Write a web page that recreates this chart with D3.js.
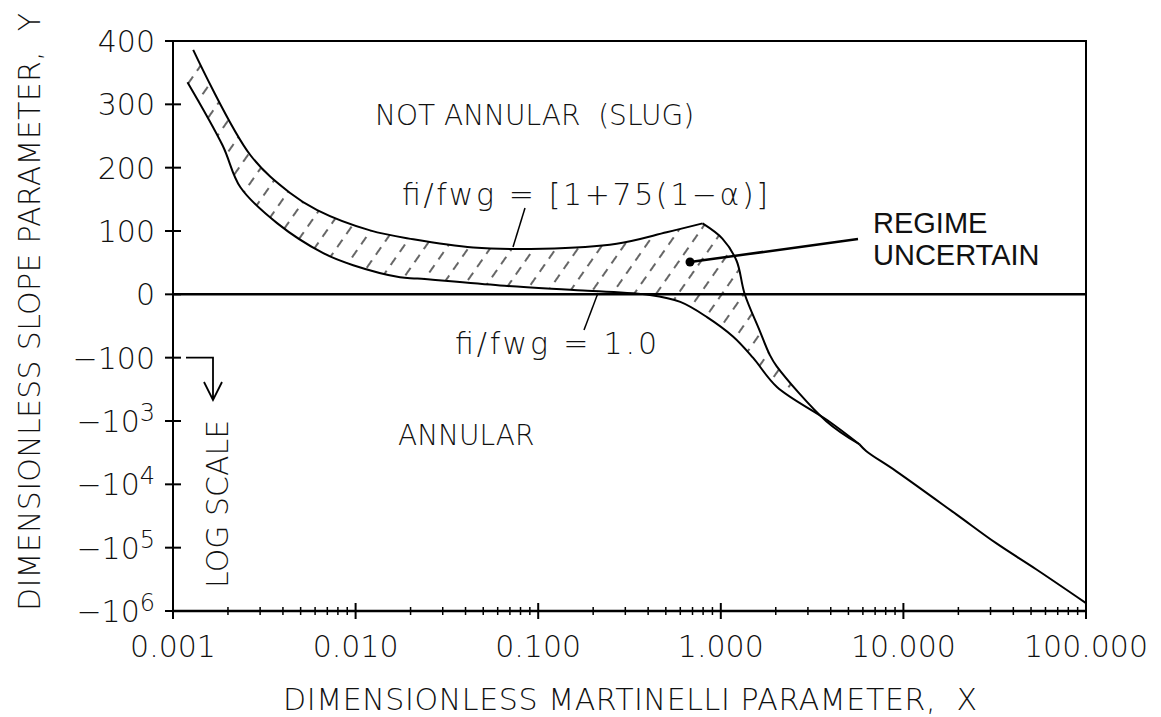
<!DOCTYPE html>
<html>
<head>
<meta charset="utf-8">
<script src="https://cdn.jsdelivr.net/npm/d3@7"></script>
<style>
  body { margin: 0; background: #fff; }
  svg text { font-family: "DejaVu Sans", sans-serif; font-weight: 200; fill: #111; white-space: pre; }
</style>
</head>
<body>
<div id="chart"></div>
<script>
var W = 1161, H = 717;
var pLeft = 173, pRight = 1086, pTop = 41, pBottom = 611;

/* x 轴刻度 */
var xDecades = [0.001, 0.01, 0.1, 1, 10, 100];
var xTickLabels = ["0.001", "0.010", "0.100", "1.000", "10.000", "100.000"];

/* y 轴刻度：上半线性，下半对数 */
var yTickValues = [400, 300, 200, 100, 0, -100, -1e3, -1e4, -1e5, -1e6];

/* fi/fwg = [1+75(1-a)] 曲线（第 11 点为尖峰） */
var upperCurve = [
  [0.00129, 386], [0.00265, 220], [0.00438, 160], [0.00616, 133], [0.0120, 101],
  [0.0207, 87], [0.044, 74], [0.106, 72], [0.269, 80], [0.505, 98], [0.795, 112],
  [1.02, 88], [1.22, 53], [1.35, 1], [1.63, -57], [1.85, -95], [2.02, -136],
  [3.78, -1007], [5.74, -2330]
];
var peakIndex = 10;

/* fi/fwg = 1.0 曲线 */
var lowerCurve = [
  [0.0012, 335], [0.00187, 235], [0.00234, 169], [0.00373, 112], [0.00665, 65],
  [0.0097, 46], [0.0175, 27], [0.0218, 25], [0.0618, 14], [0.176, 6], [0.409, -1],
  [0.60, -12], [0.84, -36], [1.17, -67], [1.50, -100], [2.03, -290], [3.82, -966],
  [5.74, -2330]
];

/* 合并后的尾部 */
var tailCurve = [
  [5.74, -2330], [6.27, -3000], [9.15, -6230], [19.5, -29800], [32.2, -85000],
  [53.3, -219000], [100, -750000]
];

var x = d3.scaleLog().domain([0.001, 100]).range([pLeft, pRight]);
var step = (pBottom - pTop) / 9;
var yLin = d3.scaleLinear().domain([400, -100]).range([pTop, pTop + 5 * step]);
var yLog = d3.scaleLog().domain([100, 1e6]).range([pTop + 5 * step, pBottom]);
function y(v) { return v >= -100 ? yLin(v) : yLog(-v); }

var svg = d3.select("#chart").append("svg")
  .attr("width", W).attr("height", H);

/* 斜线填充 */
var pat = svg.append("defs").append("pattern")
  .attr("id", "hatch")
  .attr("patternUnits", "userSpaceOnUse")
  .attr("width", 18).attr("height", 16)
  .attr("patternTransform", "rotate(35)");
pat.append("line")
  .attr("x1", 4).attr("y1", 0).attr("x2", 4).attr("y2", 16)
  .attr("stroke", "#000").attr("stroke-width", 1.2)
  .attr("stroke-dasharray", "9,7");

var smooth = d3.line()
  .x(d => x(d[0])).y(d => y(d[1]))
  .curve(d3.curveCatmullRom.alpha(0.5));
var cont = p => p.replace(/^M/, "L");

var up1 = upperCurve.slice(0, peakIndex + 1);
var up2 = upperCurve.slice(peakIndex);

svg.append("path")
  .attr("d", smooth(up1) + cont(smooth(up2)) + cont(smooth(lowerCurve.slice().reverse())) + "Z")
  .attr("fill", "url(#hatch)")
  .attr("stroke", "none");

/* 零线 */
svg.append("line")
  .attr("x1", pLeft).attr("x2", pRight)
  .attr("y1", y(0)).attr("y2", y(0))
  .attr("stroke", "#000").attr("stroke-width", 2.5);

/* 曲线 */
[up1, up2, lowerCurve, tailCurve].forEach(function (c) {
  svg.append("path")
    .attr("d", smooth(c))
    .attr("fill", "none")
    .attr("stroke", "#000")
    .attr("stroke-width", 2)
    .attr("stroke-linejoin", "round");
});

/* 边框 */
svg.append("rect")
  .attr("x", pLeft).attr("y", pTop)
  .attr("width", pRight - pLeft).attr("height", pBottom - pTop)
  .attr("fill", "none").attr("stroke", "#000").attr("stroke-width", 2);
svg.append("line")
  .attr("x1", pLeft).attr("x2", pRight).attr("y1", pBottom).attr("y2", pBottom)
  .attr("stroke", "#000").attr("stroke-width", 2.5);

/* x 轴刻度 */
var xMinor = [];
xDecades.slice(0, -1).forEach(function (d) {
  for (var k = 2; k <= 9; k++) xMinor.push(d * k);
});
svg.append("g").selectAll("line.minor")
  .data(xMinor).enter().append("line")
  .attr("x1", d => x(d)).attr("x2", d => x(d))
  .attr("y1", pBottom - 4).attr("y2", pBottom + 4)
  .attr("stroke", "#000").attr("stroke-width", 1.5);
svg.append("g").selectAll("line.major")
  .data(xDecades).enter().append("line")
  .attr("x1", d => x(d)).attr("x2", d => x(d))
  .attr("y1", pBottom - 8).attr("y2", pBottom + 8)
  .attr("stroke", "#000").attr("stroke-width", 2);
svg.append("g").selectAll("text")
  .data(xDecades).enter().append("text")
  .attr("x", d => x(d)).attr("y", 657)
  .attr("text-anchor", "middle")
  .style("font-size", "30px")
  .text((d, i) => xTickLabels[i]);

/* y 轴刻度 */
svg.append("g").selectAll("line")
  .data(yTickValues).enter().append("line")
  .attr("x1", pLeft - 8).attr("x2", pLeft + 8)
  .attr("y1", d => y(d)).attr("y2", d => y(d))
  .attr("stroke", "#000").attr("stroke-width", 2);
var yl = svg.append("g").selectAll("text")
  .data(yTickValues).enter().append("text")
  .attr("x", 155).attr("y", d => y(d) + 11)
  .attr("text-anchor", "end")
  .style("font-size", "30px");
yl.each(function (d) {
  var t = d3.select(this);
  if (d > -1000) {
    t.text(d < 0 ? "\u2212" + Math.abs(d) : String(d));
  } else {
    t.append("tspan").text("\u221210");
    t.append("tspan").attr("dy", -11).style("font-size", "24px")
      .text(String(Math.round(Math.log10(-d))));
  }
});

/* 轴标题 */
svg.append("text")
  .attr("x", 630).attr("y", 710)
  .attr("text-anchor", "middle")
  .attr("textLength", 694).attr("lengthAdjust", "spacing")
  .style("font-size", "30px")
  .text("DIMENSIONLESS MARTINELLI PARAMETER,  X");
svg.append("text")
  .attr("transform", "translate(40,312) rotate(-90)")
  .attr("text-anchor", "middle")
  .attr("textLength", 598).attr("lengthAdjust", "spacing")
  .style("font-size", "30px")
  .text("DIMENSIONLESS SLOPE PARAMETER,  Y");

/* 注释 */
svg.append("text")
  .attr("x", 375).attr("y", 125)
  .style("font-size", "28px")
  .text("NOT ANNULAR  (SLUG)");
svg.append("text")
  .attr("x", 398).attr("y", 445)
  .style("font-size", "28px")
  .text("ANNULAR");
svg.append("text")
  .attr("x", 402).attr("y", 205)
  .attr("textLength", 366).attr("lengthAdjust", "spacing")
  .style("font-size", "30px")
  .text("fi/fwg = [1+75(1\u2212\u03b1)]");
svg.append("line")
  .attr("x1", 525).attr("y1", 208).attr("x2", 513).attr("y2", 247)
  .attr("stroke", "#000").attr("stroke-width", 1.5);
svg.append("text")
  .attr("x", 455).attr("y", 354)
  .attr("textLength", 202).attr("lengthAdjust", "spacing")
  .style("font-size", "30px")
  .text("fi/fwg = 1.0");
svg.append("line")
  .attr("x1", 598).attr("y1", 293).attr("x2", 584).attr("y2", 330)
  .attr("stroke", "#000").attr("stroke-width", 1.5);

var reg = svg.append("text")
  .attr("x", 873).attr("y", 233)
  .style("font-family", "'Liberation Sans', Arial, sans-serif")
  .style("font-weight", 400)
  .style("font-size", "29px");
reg.append("tspan").attr("x", 873).text("REGIME");
reg.append("tspan").attr("x", 873).attr("dy", 32).text("UNCERTAIN");
svg.append("line")
  .attr("x1", 858).attr("y1", 239).attr("x2", 690).attr("y2", 262)
  .attr("stroke", "#000").attr("stroke-width", 2.5);
svg.append("circle")
  .attr("cx", 690).attr("cy", 262).attr("r", 4.5).attr("fill", "#000");

/* LOG SCALE 箭头 */
svg.append("path")
  .attr("d", "M186," + y(-100) + "H213V400M204,382L213,400L222,382")
  .attr("fill", "none").attr("stroke", "#000").attr("stroke-width", 1.8);
svg.append("text")
  .attr("transform", "translate(228,588) rotate(-90)")
  .style("font-size", "30px")
  .text("LOG SCALE");
</script>
</body>
</html>
